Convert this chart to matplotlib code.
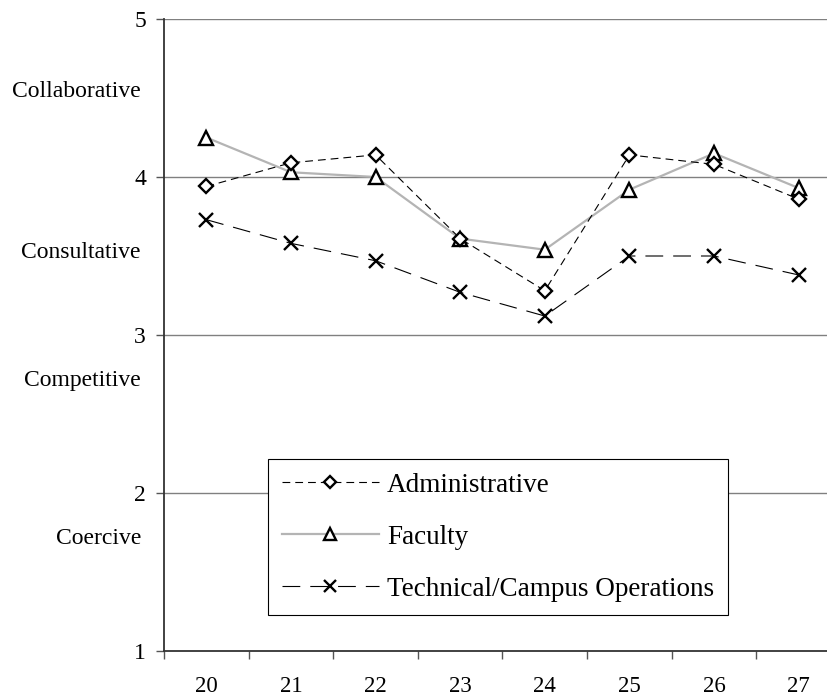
import numpy as np
import matplotlib.pyplot as plt

plt.rcParams["font.family"] = ["Liberation Serif", "DejaVu Serif"]

items = ["20", "21", "22", "23", "24", "25", "26", "27"]
admin = [3.94, 4.09, 4.14, 3.61, 3.28, 4.14, 4.08, 3.86]
faculty = [4.25, 4.03, 4.00, 3.61, 3.54, 3.92, 4.15, 3.93]
tech = [3.73, 3.58, 3.47, 3.27, 3.12, 3.50, 3.50, 3.38]
styles = ["Collaborative", "Consultative", "Competitive", "Coercive"]

x = np.arange(len(items))

fig = plt.figure(figsize=(8.28, 6.98), dpi=100)
# plot area runs a little past the right edge of the figure
ax = fig.add_axes([164 / 828, 47 / 698, 677 / 828, 632 / 698])

for yv in [2, 3, 4, 5]:
    ax.axhline(yv, color="#808080", lw=1.0, zorder=1)

ax.plot(x, faculty, color="#b4b4b4", lw=1.6, marker="^", ms=10,
        mfc="white", mec="black", mew=1.7, label="Faculty", zorder=3)
ax.plot(x, admin, color="black", lw=0.8, dashes=(7, 4.5), marker="D", ms=7.5,
        mfc="white", mec="black", mew=1.7, label="Administrative", zorder=4)
ax.plot(x, tech, color="black", lw=0.8, dashes=(16, 9), marker="x", ms=10,
        mec="black", mew=1.7, label="Technical/Campus Operations", zorder=4)

ax.set_xlim(-0.5, 7.5)
ax.set_ylim(1, 5)
ax.set_yticks([1, 2, 3, 4, 5])
ax.tick_params(axis="y", direction="out", length=6, width=1, color="#555555",
               pad=7, labelsize=17)
ax.set_xticks(x)
ax.set_xticklabels(items)
ax.set_xticks(np.arange(-0.5, 8, 1), minor=True)
ax.tick_params(axis="x", which="major", length=0, pad=18, labelsize=16.5)
ax.tick_params(axis="x", which="minor", direction="out", length=6, width=1,
               color="#555555")

for side in ["top", "right"]:
    ax.spines[side].set_visible(False)
ax.spines["left"].set_color("#333333")
ax.spines["left"].set_linewidth(1.3)
ax.spines["bottom"].set_color("#333333")
ax.spines["bottom"].set_linewidth(1.3)

# style names beside the y axis
for name, yv in zip(styles, [4.544, 3.525, 2.715, 1.71]):
    ax.text(-0.034, yv, name, transform=ax.get_yaxis_transform(),
            ha="right", va="center", fontsize=17)

handles, labels = ax.get_legend_handles_labels()
order = [1, 0, 2]
leg = fig.legend([handles[i] for i in order], [labels[i] for i in order],
                 loc="upper left", bbox_to_anchor=(268 / 828, 1 - 459 / 698),
                 borderaxespad=0, fontsize=19.5, frameon=True, fancybox=False,
                 edgecolor="black", framealpha=1, markerscale=0.8,
                 handlelength=3.6, handletextpad=0.3, labelspacing=1.0,
                 borderpad=0.5)
leg.get_frame().set_linewidth(0.8)

fig.savefig("out.png", dpi=100)
